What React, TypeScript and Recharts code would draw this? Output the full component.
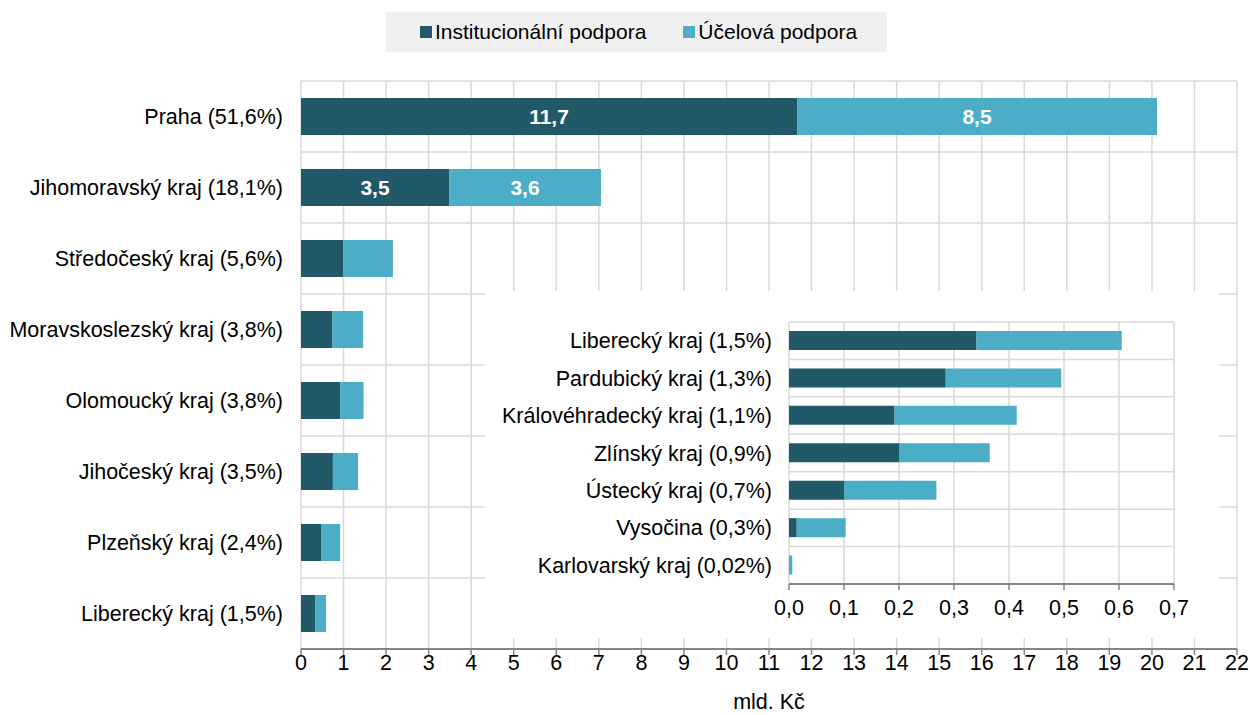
import React from 'react';
import { BarChart, Bar, XAxis, YAxis, CartesianGrid, LabelList, Label } from 'recharts';

const mainRegions = [
  'Praha (51,6%)',
  'Jihomoravský kraj (18,1%)',
  'Středočeský kraj (5,6%)',
  'Moravskoslezský kraj (3,8%)',
  'Olomoucký kraj (3,8%)',
  'Jihočeský kraj (3,5%)',
  'Plzeňský kraj (2,4%)',
  'Liberecký kraj (1,5%)',
];
const mainInst = [11.66, 3.48, 0.99, 0.74, 0.92, 0.75, 0.47, 0.33];
const mainUcel = [8.46, 3.57, 1.17, 0.72, 0.55, 0.59, 0.45, 0.26];

const insetRegions = [
  'Liberecký kraj (1,5%)',
  'Pardubický kraj (1,3%)',
  'Královéhradecký kraj (1,1%)',
  'Zlínský kraj (0,9%)',
  'Ústecký kraj (0,7%)',
  'Vysočina (0,3%)',
  'Karlovarský kraj (0,02%)',
];
const insetInst = [0.341, 0.285, 0.192, 0.201, 0.1, 0.014, 0.0];
const insetUcel = [0.264, 0.21, 0.222, 0.164, 0.168, 0.089, 0.006];

const mainTicks = [0, 1, 2, 3, 4, 5, 6, 7, 8, 9, 10, 11, 12, 13, 14, 15, 16, 17, 18, 19, 20, 21, 22];
const insetTicks = [0, 0.1, 0.2, 0.3, 0.4, 0.5, 0.6, 0.7];

const seriesNames = ['Institucionální podpora', 'Účelová podpora'];
const DARK = '#225968';
const LIGHT = '#4badc6';
const GRID = '#d9d9d9';
const AXIS = '#858585';
const FONT = '"Liberation Sans", Arial, sans-serif';
const TICK_FS = 21.5;

const mainData = mainRegions.map((name, i) => ({ name, inst: mainInst[i], ucel: mainUcel[i] }));
const insetData = insetRegions.map((name, i) => ({ name, inst: insetInst[i], ucel: insetUcel[i] }));

const bandGen = (n: number) => (props: any) => {
  const { offset } = props;
  const out: number[] = [];
  for (let i = 0; i <= n; i++) out.push(offset.top + (i * offset.height) / n);
  return out;
};

const fmtLabel = (v: any) => (typeof v === 'number' && v >= 3 ? v.toFixed(1).replace('.', ',') : '');

export default function App() {
  return (
    <div
      style={{
        position: 'absolute',
        left: 0,
        top: 0,
        width: 1250,
        height: 715,
        background: '#fff',
        fontFamily: FONT,
        color: '#000',
      }}
    >
      <BarChart
        width={1250}
        height={715}
        data={mainData}
        layout="vertical"
        margin={{ top: 81, right: 13, left: 0, bottom: 0 }}
        barSize={37}
      >
        <CartesianGrid
          stroke={GRID}
          strokeWidth={1.5}
          horizontalCoordinatesGenerator={bandGen(mainRegions.length)}
        />
        <XAxis
          type="number"
          domain={[0, 22]}
          ticks={mainTicks}
          interval={0}
          height={66}
          tickSize={6}
          tickMargin={0}
          stroke={AXIS}
          axisLine={{ stroke: AXIS, strokeWidth: 2 }}
          tickLine={{ stroke: AXIS, strokeWidth: 1.5 }}
          tick={{ fill: '#000', fontSize: TICK_FS, fontFamily: FONT }}
        >
          <Label value="mld. Kč" position="insideBottom" offset={6} fill="#000" fontSize={TICK_FS} fontFamily={FONT} />
        </XAxis>
        <YAxis
          type="category"
          dataKey="name"
          width={301}
          interval={0}
          axisLine={false}
          tickLine={false}
          tickSize={0}
          tickMargin={18}
          tick={{ fill: '#000', fontSize: TICK_FS, fontFamily: FONT }}
        />
        <Bar dataKey="inst" stackId="a" fill={DARK} isAnimationActive={false} name={seriesNames[0]}>
          <LabelList
            dataKey="inst"
            position="center"
            formatter={fmtLabel}
            fill="#fff"
            fontSize={21}
            fontWeight="bold"
            fontFamily={FONT}
          />
        </Bar>
        <Bar dataKey="ucel" stackId="a" fill={LIGHT} isAnimationActive={false} name={seriesNames[1]}>
          <LabelList
            dataKey="ucel"
            position="center"
            formatter={fmtLabel}
            fill="#fff"
            fontSize={21}
            fontWeight="bold"
            fontFamily={FONT}
          />
        </Bar>
      </BarChart>

      <div
        style={{
          position: 'absolute',
          left: 386,
          top: 12,
          width: 501,
          height: 40,
          background: '#f0f0f0',
          display: 'flex',
          alignItems: 'center',
          paddingLeft: 34,
          boxSizing: 'border-box',
          fontSize: 21,
          whiteSpace: 'nowrap',
        }}
      >
        <span style={{ width: 12, height: 12, background: DARK, display: 'inline-block', marginRight: 3 }} />
        <span>{seriesNames[0]}</span>
        <span style={{ width: 12, height: 12, background: LIGHT, display: 'inline-block', marginRight: 3, marginLeft: 37 }} />
        <span>{seriesNames[1]}</span>
      </div>

      <div
        style={{
          position: 'absolute',
          left: 485,
          top: 291,
          width: 734,
          height: 347,
          background: '#fff',
        }}
      >
        <BarChart
          width={734}
          height={347}
          data={insetData}
          layout="vertical"
          margin={{ top: 31, right: 45, left: 0, bottom: 0 }}
          barSize={19}
        >
          <CartesianGrid
            stroke={GRID}
            strokeWidth={1.5}
            horizontalCoordinatesGenerator={bandGen(insetRegions.length)}
          />
          <XAxis
            type="number"
            domain={[0, 0.7]}
            ticks={insetTicks}
            interval={0}
            height={54}
            tickSize={6}
            tickMargin={10}
            axisLine={{ stroke: AXIS, strokeWidth: 2 }}
            tickLine={{ stroke: AXIS, strokeWidth: 1.5 }}
            tickFormatter={(v: number) => v.toFixed(1).replace('.', ',')}
            tick={{ fill: '#000', fontSize: TICK_FS, fontFamily: FONT }}
          />
          <YAxis
            type="category"
            dataKey="name"
            width={304}
            interval={0}
            axisLine={false}
            tickLine={false}
            tickSize={0}
            tickMargin={17}
            tick={{ fill: '#000', fontSize: TICK_FS, fontFamily: FONT }}
          />
          <Bar dataKey="inst" stackId="b" fill={DARK} isAnimationActive={false} name={seriesNames[0]} />
          <Bar dataKey="ucel" stackId="b" fill={LIGHT} isAnimationActive={false} name={seriesNames[1]} />
        </BarChart>
      </div>
    </div>
  );
}
